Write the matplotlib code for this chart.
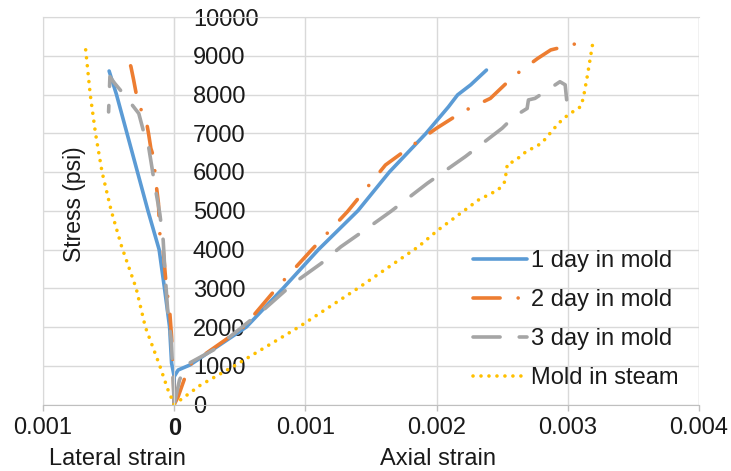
import matplotlib.pyplot as plt

plt.rcParams["font.family"] = ["Liberation Sans", "DejaVu Sans"]

# lateral strain is drawn on the negative side of the x axis
day1_lat_x = [0, 0, -0.00002, -0.000035, -0.000074, -0.000115, -0.0002, -0.00028, -0.00036, -0.00044, -0.000496]
day1_lat_y = [0, 720, 1070, 2000, 3000, 4000, 5000, 6000, 7000, 8000, 8606]
day1_ax_x = [0, 0, 0.00003, 0.00012, 0.00055, 0.00083, 0.0011, 0.0014, 0.00164, 0.00192, 0.00209, 0.00216, 0.00226, 0.00238]
day1_ax_y = [0, 720, 890, 1020, 2000, 3000, 4000, 5000, 6000, 7000, 7680, 7990, 8250, 8630]

day2_lat_x = [0, -0.00001, -0.00002, -0.000035, -0.00006, -0.000084, -0.00011, -0.00012, -0.000146,
              -0.000153, -0.000178, -0.000195, -0.000215, -0.000257, -0.00029, -0.00031, -0.00033, -0.000368]
day2_lat_y = [0, 1060, 1750, 2440, 3040, 3990, 4420, 5190, 5920,
              6350, 6610, 6980, 7360, 7640, 8030, 8390, 8720, 9080]
day2_ax_x = [0, 0.00003, 0.00008, 0.0001, 0.00053, 0.00078, 0.00105, 0.00132, 0.00161, 0.0018,
             0.002, 0.0022, 0.00241, 0.0025, 0.00259, 0.00277, 0.00287, 0.00305]
day2_ax_y = [0, 200, 680, 980, 2000, 3000, 4000, 4975, 6180, 6650,
             7130, 7560, 7900, 8190, 8480, 8930, 9150, 9300]

day3_lat_x = [0, -0.00001, -0.000022, -0.000047, -0.00007, -0.000084, -0.00011, -0.000146, -0.000195,
              -0.00022, -0.00024, -0.00027, -0.00038, -0.000454, -0.00049, -0.0005]
day3_lat_y = [0, 800, 1660, 2310, 3390, 4240, 4930, 5620, 6650,
              6830, 7130, 7510, 7990, 8290, 8460, 7550]
day3_ax_x = [0, 0.00004, 0.00009, 0.0003, 0.00068, 0.00091, 0.00112, 0.00127, 0.00146, 0.00165,
             0.00193, 0.00222, 0.0025, 0.00259, 0.00269, 0.0027, 0.00275, 0.00294, 0.00298, 0.003]
day3_ax_y = [0, 630, 1020, 1410, 2440, 3130, 3640, 4070, 4520, 4980,
             5710, 6400, 7130, 7430, 7640, 7860, 7900, 8330, 8250, 7560]

steam_lat_x = [0, -0.00005, -0.00011, -0.00022, -0.00029, -0.0004, -0.00048, -0.00055, -0.0006,
               -0.00064, -0.00067, -0.00068]
steam_lat_y = [0, 400, 1000, 2000, 3000, 4070, 5000, 6000, 7000, 8000, 9000, 9320]
steam_ax_x = [0, 0.0002, 0.00046, 0.00095, 0.0014, 0.00186, 0.00201, 0.00232, 0.00247, 0.00252,
              0.00254, 0.00259, 0.00268, 0.0028, 0.00293, 0.003, 0.0031, 0.00312, 0.00315, 0.00319]
steam_ax_y = [0, 500, 1000, 2000, 3000, 4070, 4500, 5280, 5540, 5750,
              6220, 6270, 6520, 6740, 7260, 7470, 7690, 7940, 8500, 9320]

x_tick_values = [-0.001, 0, 0.001, 0.002, 0.003, 0.004]
x_tick_labels = ["0.001", "0", "0.001", "0.002", "0.003", "0.004"]
y_tick_values = list(range(0, 10001, 1000))

series = [
    ("1 day in mold", day1_lat_x, day1_lat_y, day1_ax_x, day1_ax_y,
     dict(color="#5B9BD5", lw=2.6, linestyle="-", solid_capstyle="round")),
    ("2 day in mold", day2_lat_x, day2_lat_y, day2_ax_x, day2_ax_y,
     dict(color="#ED7D31", lw=2.6, linestyle=(0, (7.5, 5, 0.01, 5)), dash_capstyle="round")),
    ("3 day in mold", day3_lat_x, day3_lat_y, day3_ax_x, day3_ax_y,
     dict(color="#A5A5A5", lw=2.6, linestyle=(0, (7.5, 5.3)), dash_capstyle="round")),
    ("Mold in steam", steam_lat_x, steam_lat_y, steam_ax_x, steam_ax_y,
     dict(color="#FFC000", lw=2.6, linestyle=(0, (0.01, 2.2)), dash_capstyle="round")),
]

fig = plt.figure(figsize=(7.31, 4.71), dpi=100)
ax = fig.add_axes([43 / 731, 66.5 / 471, 656 / 731, 387.5 / 471])

for name, lx, ly, axx, axy, style in series:
    ax.plot(lx, ly, label="_nolegend_", **style)
    ax.plot(axx, axy, label=name, **style)

ax.set_xlim(-0.001, 0.004)
ax.set_ylim(0, 10000)
ax.set_xticks(x_tick_values)
ax.set_xticklabels(x_tick_labels)
ax.set_yticks(y_tick_values)
ax.grid(True, color="#d9d9d9", lw=1.0)
ax.set_axisbelow(True)

# y axis sits at x = 0 with labels on its right
ax.yaxis.tick_right()
ax.spines["right"].set_position(("data", 0))
ax.spines["right"].set_color("#d9d9d9")
for side in ["left", "top"]:
    ax.spines[side].set_color("#d9d9d9")
ax.spines["bottom"].set_color("#bfbfbf")
ax.axvline(0.004, color="#d9d9d9", lw=1.0, zorder=0.5)

text_color = "#1a1a1a"
fs = 17
ax.tick_params(axis="y", length=0, pad=13.5, labelsize=fs, labelcolor=text_color)
ax.tick_params(axis="x", length=4.5, width=1, color="#bfbfbf", pad=4.5, labelsize=fs, labelcolor=text_color)
ax.get_xticklabels()[1].set_fontweight("bold")

ax.set_ylabel("Stress (psi)", fontsize=16.5, color=text_color)
ax.yaxis.set_label_position("left")
ax.yaxis.set_label_coords(0.066, 0.518)

ax.set_xlabel("Axial strain", fontsize=fs, color=text_color)
ax.xaxis.set_label_coords(0.602, -0.113)
ax.text(0.1128, -0.113, "Lateral strain", transform=ax.transAxes, ha="center", va="top",
        fontsize=fs, color=text_color)

ax.legend(loc="upper left", bbox_to_anchor=(0.6555, 0.398), frameon=False, fontsize=fs,
          handlelength=2.3, handletextpad=0.15, labelspacing=0.72, borderpad=0, borderaxespad=0,
          labelcolor=text_color)

fig.savefig("out.png", dpi=100)
